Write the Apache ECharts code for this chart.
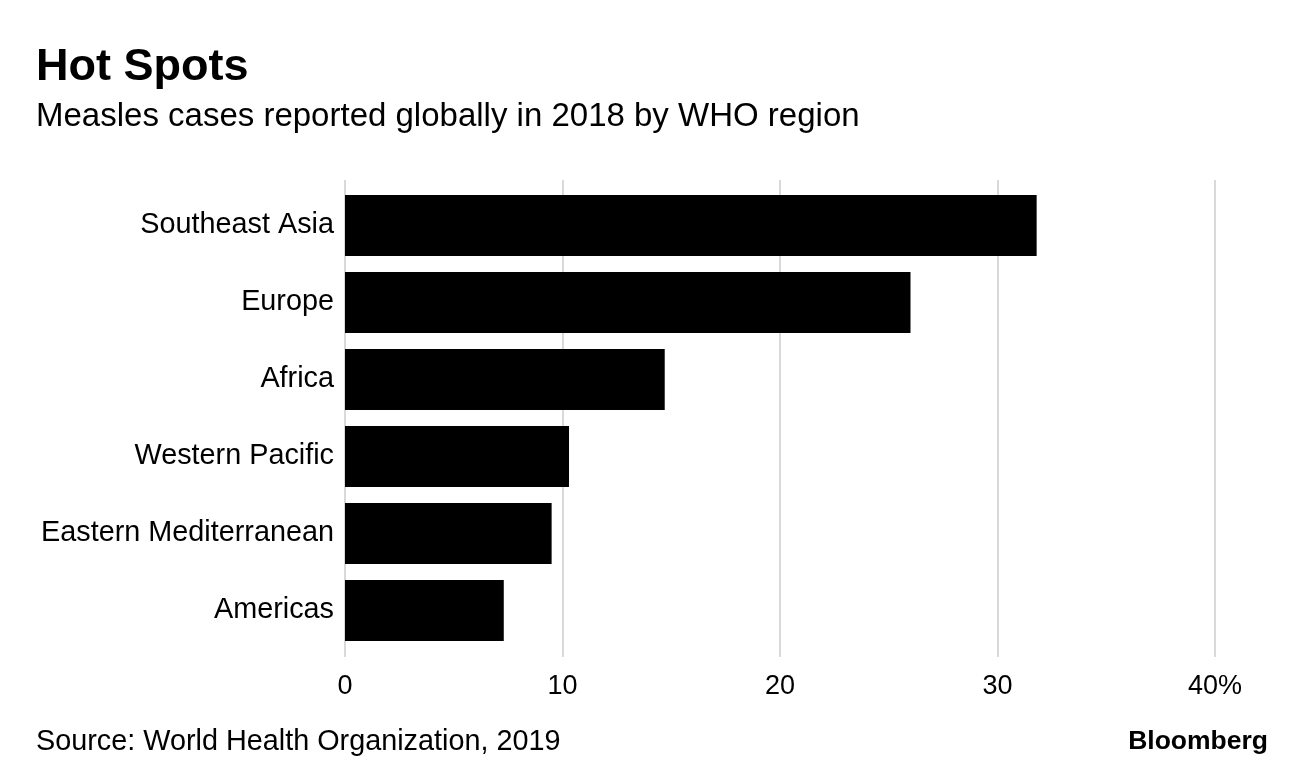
<!DOCTYPE html>
<html>
<head>
<meta charset="utf-8">
<script src="https://cdn.jsdelivr.net/npm/echarts@6/dist/echarts.min.js"></script>
<style>html,body{margin:0;padding:0;background:#fff}#c{width:1296px;height:772px}</style>
</head>
<body>
<div id="c"></div>
<script>
const regions = ['Southeast Asia', 'Europe', 'Africa', 'Western Pacific', 'Eastern Mediterranean', 'Americas'];
const shares = [31.8, 26.0, 14.7, 10.3, 9.5, 7.3];
const tickValues = [0, 10, 20, 30, 40];
const tickLabels = ['0', '10', '20', '30', '40%'];

const FONT = '"Liberation Sans", Arial, Helvetica, sans-serif';
const chart = echarts.init(document.getElementById('c'), null, {renderer: 'canvas'});
chart.setOption({
  backgroundColor: '#ffffff',
  animation: false,
  textStyle: {fontFamily: FONT},
  graphic: [
    {type: 'text', left: 36, top: 45, style: {text: 'Hot Spots', font: 'bold 45px ' + FONT, fill: '#000'}},
    {type: 'text', left: 36, top: 100, style: {text: 'Measles cases reported globally in 2018 by WHO region', font: '33px ' + FONT, fill: '#000'}},
    {type: 'text', left: 36, top: 728, style: {text: 'Source: World Health Organization, 2019', font: '28.8px ' + FONT, fill: '#000'}},
    {type: 'text', right: 28, top: 728, style: {text: 'Bloomberg', font: 'bold 26.5px ' + FONT, fill: '#000'}}
  ],
  grid: [
    {left: 345, right: 81, top: 187, height: 462, containLabel: false},
    {left: 345, right: 81, top: 180, height: 477, containLabel: false}
  ],
  xAxis: [
    {gridIndex: 0, type: 'value', min: 0, max: 40, interval: 10, show: false},
    {gridIndex: 1, type: 'value', min: 0, max: 40, interval: 10,
      axisLine: {show: false}, axisTick: {show: false},
      splitLine: {show: true, lineStyle: {color: '#d9d9d9', width: 2}},
      axisLabel: {margin: 16, fontSize: 27, color: '#000', fontFamily: FONT,
        formatter: v => tickLabels[tickValues.indexOf(v)]}}
  ],
  yAxis: [
    {gridIndex: 0, type: 'category', data: regions, inverse: true,
      axisLine: {show: false}, axisTick: {show: false}, splitLine: {show: false},
      axisLabel: {margin: 11, fontSize: 28.8, color: '#000', fontFamily: FONT}},
    {gridIndex: 1, type: 'category', data: regions, show: false}
  ],
  series: [
    {type: 'bar', xAxisIndex: 0, yAxisIndex: 0, data: shares, barWidth: 61,
      itemStyle: {color: '#000'}, z: 3}
  ]
});
</script>
</body>
</html>
